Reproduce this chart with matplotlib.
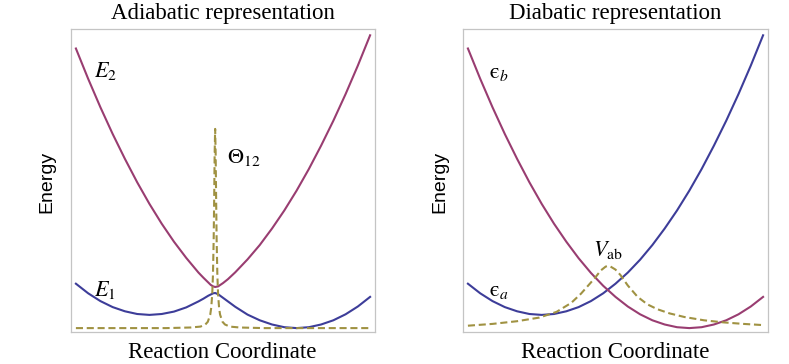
import numpy as np
import matplotlib
matplotlib.use("Agg")
import matplotlib.pyplot as plt

plt.rcParams['mathtext.fontset'] = 'stix'

# colours (Mathematica-style defaults)
c_blue = '#3d3d99'
c_purple = '#993d71'
c_olive = '#a09242'

# --- adiabatic panel ---
x_adia = [0, 0.25, 0.5, 0.75, 1.0, 1.25, 1.5, 1.75, 2.0, 2.25, 2.5, 2.6, 2.7, 2.75,
          2.8, 2.84, 2.9, 3.0, 3.1, 3.25, 3.5, 3.75, 4.0, 4.25, 4.5, 4.75, 5.0,
          5.25, 5.5, 5.75, 6.0]
E1 = [1.61, 1.29, 1.03, 0.83, 0.69, 0.60, 0.57, 0.60, 0.68, 0.82, 1.02, 1.11, 1.21, 1.25,
      1.29, 1.30, 1.26, 1.14, 1.02, 0.84, 0.58, 0.39, 0.25, 0.16, 0.13, 0.16, 0.25,
      0.39, 0.59, 0.85, 1.17]
E2 = [9.45, 8.44, 7.49, 6.60, 5.77, 4.99, 4.27, 3.61, 3.01, 2.47, 1.98, 1.81, 1.65, 1.57,
      1.52, 1.50, 1.52, 1.63, 1.76, 1.99, 2.42, 2.90, 3.45, 4.05, 4.71, 5.43, 6.21,
      7.04, 7.93, 8.88, 9.89]

x_theta = [0, 1.84, 2.34, 2.54, 2.64, 2.69, 2.74, 2.76, 2.78, 2.795, 2.81, 2.82, 2.83,
           2.84, 2.85, 2.86, 2.87, 2.885, 2.9, 2.92, 2.94, 2.99, 3.04, 3.14, 3.34, 3.84, 6.0]
theta12 = [0.13, 0.13, 0.15, 0.18, 0.25, 0.34, 0.58, 0.81, 1.25, 1.89, 3.10, 4.42, 5.97,
           6.77, 5.97, 4.42, 3.10, 1.89, 1.25, 0.81, 0.58, 0.34, 0.25, 0.18, 0.15, 0.13, 0.13]

# --- diabatic panel ---
x_dia = [0, 0.25, 0.5, 0.75, 1.0, 1.25, 1.5, 1.75, 2.0, 2.25, 2.5, 2.75, 3.0, 3.25,
         3.5, 3.75, 4.0, 4.25, 4.5, 4.75, 5.0, 5.25, 5.5, 5.75, 6.0]
eps_a = [1.61, 1.29, 1.03, 0.83, 0.69, 0.60, 0.57, 0.60, 0.69, 0.83, 1.03, 1.29, 1.61,
         1.98, 2.41, 2.90, 3.45, 4.05, 4.71, 5.43, 6.21, 7.04, 7.93, 8.88, 9.89]
eps_b = [9.45, 8.44, 7.49, 6.60, 5.77, 4.99, 4.27, 3.61, 3.01, 2.46, 1.97, 1.54, 1.17,
         0.85, 0.59, 0.39, 0.25, 0.16, 0.13, 0.16, 0.25, 0.39, 0.59, 0.85, 1.17]

x_vab = [0, 0.5, 1.0, 1.45, 1.8, 2.1, 2.3, 2.5, 2.6, 2.7, 2.8, 2.84, 2.9, 3.0, 3.1,
         3.25, 3.45, 3.65, 3.85, 4.1, 4.4, 4.8, 5.2, 5.6, 6.0]
V_ab = [0.21, 0.27, 0.36, 0.48, 0.67, 0.97, 1.28, 1.65, 1.84, 2.05, 2.18, 2.2, 2.18, 2.08, 1.9,
        1.55, 1.17, 0.92, 0.76, 0.62, 0.5, 0.39, 0.32, 0.27, 0.23]

W, H = 789, 364
fig = plt.figure(figsize=(W / 100, H / 100), dpi=100)
ax1 = fig.add_axes([71 / W, 32 / H, 304 / W, 303 / H])
ax2 = fig.add_axes([463 / W, 32 / H, 305 / W, 303 / H])

lw = 1.5
dash = (3.4, 1.8)

ax1.plot(x_adia, E1, color=c_blue, lw=lw)
ax1.plot(x_adia, E2, color=c_purple, lw=lw)
ax1.plot(x_theta, theta12, color=c_olive, lw=lw, dashes=dash)

ax2.plot(x_dia, eps_a, color=c_blue, lw=lw)
ax2.plot(x_dia, eps_b, color=c_purple, lw=lw)
ax2.plot(x_vab, V_ab, color=c_olive, lw=lw, dashes=dash)

for ax in (ax1, ax2):
    ax.set_xlim(-0.1, 6.1)
    ax.set_ylim(0, 10.1)
    ax.set_xticks([])
    ax.set_yticks([])
    for s in ax.spines.values():
        s.set_color('#c4c4c4')
        s.set_linewidth(0.9)

lab = dict(fontsize=16, ha='left', va='center')
ax1.text(0.37, 8.7, r'$E_2$', **lab)
ax1.text(0.37, 1.4, r'$E_1$', **lab)
ax1.text(3.08, 5.83, r'$\Theta_{12}$', **lab)
ax2.text(0.42, 8.63, r'$\mathrm{ϵ}_b$', **lab)
ax2.text(0.42, 1.37, r'$\mathrm{ϵ}_a$', **lab)
ax2.text(2.55, 2.72, r'$V_{\mathrm{ab}}$', **lab)

serif = dict(family='Liberation Serif', fontsize=16.5, ha='center', va='center')
fig.text(223 / W, 1 - 13 / H, 'Adiabatic representation', **serif)
fig.text(615 / W, 1 - 13 / H, 'Diabatic representation', **serif)
fig.text(222 / W, 1 - 352 / H, 'Reaction Coordinate', **serif)
fig.text(615 / W, 1 - 352 / H, 'Reaction Coordinate', **serif)

sans = dict(family='Liberation Sans', fontsize=14, ha='center', va='center', rotation=90)
fig.text(47 / W, 1 - 182 / H, 'Energy', **sans)
fig.text(440 / W, 1 - 182 / H, 'Energy', **sans)

fig.savefig('out.png', dpi=100)
